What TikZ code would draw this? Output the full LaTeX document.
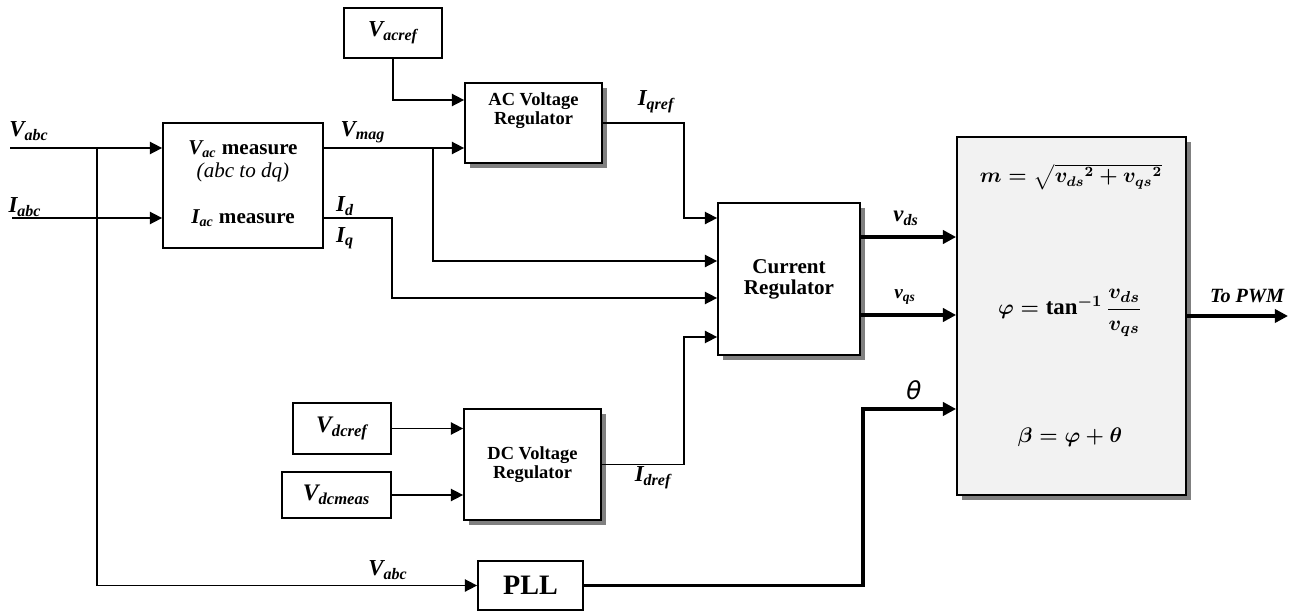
\documentclass[tikz,border=0pt]{standalone}
\usepackage{amsmath,bm}
\usepackage{fontspec}
\setmainfont{Liberation Serif}
\newfontfamily\thetafont{DejaVu Sans}
\usetikzlibrary{positioning,arrows.meta,shadows,calc}
\newcommand{\sg}[2]{\textbf{\textit{#1\textsubscript{#2}}}}
\newcommand{\fsz}[1]{\fontsize{#1}{#1}\selectfont}

\tikzset{
  blk/.style={draw,line width=1pt,fill=white,align=center,inner sep=0pt,
    font=\fsz{11}\bfseries},
  dims/.style 2 args={minimum width=#1*0.02cm,minimum height=#2*0.02cm},
  shd/.style={drop shadow={shadow xshift=0.1cm,shadow yshift=-0.1cm,
    fill=black!50,opacity=1}},
  sig/.style={line width=0.9pt,-{Triangle[length=7pt,width=7pt]}},
  bus/.style={line width=2.2pt,-{Triangle[length=7.5pt,width=7.5pt]}},
  lbl/.style={font=\fsz{13},inner sep=0pt},
  eqn/.style={font=\fsz{12}\boldmath},
}

\begin{document}
\begin{tikzpicture}[x=0.02cm,y=-0.02cm]
  \useasboundingbox (0,0) rectangle (1298,615);

  % blocks
  \node[blk,dims={160}{125}] (meas) at (243,185.5) {};
  \node[font=\fsz{12}] (meastop) at (243,149) {\sg{V}{ac} \textbf{measure}};
  \node[font=\fsz{12}\itshape] (measmid) at (243,172) {(abc to dq)};
  \node[font=\fsz{12}] (measbot) at (243,218) {\sg{I}{ac} \textbf{measure}};
  \node[blk,dims={98}{50},font=\fsz{13}] (vacref) at (393,33) {\sg{V}{acref}};
  \node[blk,shd,dims={137}{80},font=\fsz{10.5}\bfseries] (acreg) at (533.5,123)
    {AC Voltage\\Regulator\\[6pt]};
  \node[blk,shd,dims={142}{152},font=\fsz{12}\bfseries] (curreg) at (789,279)
    {Current\\Regulator};
  \node[blk,dims={98}{51},font=\fsz{13.5}] (dcref) at (342,428.5) {\sg{V}{dcref}};
  \node[blk,dims={109}{46},font=\fsz{13.5}] (dcmeas) at (336.5,495) {\sg{V}{dcmeas}};
  \node[blk,shd,dims={137}{111},font=\fsz{10.5}\bfseries] (dcreg) at (532.5,464.5)
    {DC Voltage\\Regulator};
  \node[blk,dims={105}{49},font=\fsz{16}\bfseries] (pll) at (530.5,585.5) {PLL};
  \node[blk,shd,fill=black!5,dims={229}{358}] (ctrl) at (1071.5,316) {};
  \node[eqn] (fm) at (1071,177) {$m=\sqrt{{v_{ds}}^{2}+{v_{qs}}^{2}}$};
  \node[eqn,font=\fsz{13}\boldmath] (fphi) at (1070,313)
    {$\varphi=\tan^{-1}\dfrac{v_{ds}}{v_{qs}}$};
  \node[eqn] (fbeta) at (1070,437) {$\beta=\varphi+\theta$};

  % connectors
  \coordinate (vin) at (10,148);
  \coordinate (iin) at (12,218);
  \coordinate (jv) at (97,148);
  \coordinate (pwm) at (1288,316);
  \draw[sig] (vin) -- (vin -| meas.west);
  \draw[sig] (iin) -- (iin -| meas.west);
  \draw[sig] (jv) |- (pll.west);
  \draw[sig] (meas.east |- vin) -- (acreg.west |- vin);
  \draw[sig] (meas.east |- vin) ++(109,0) |- ([yshift=0.36cm]curreg.west);
  \draw[sig] (meas.east |- iin) -- ++(68,0) |- ([yshift=-0.38cm]curreg.west);
  \draw[sig] (vacref.south) |- ([yshift=0.46cm]acreg.west);
  \draw[sig] (acreg.east) -- ++(81,0) |- ([yshift=1.22cm]curreg.west);
  \draw[sig] (dcreg.east) -- ++(82,0) |- ([yshift=-1.16cm]curreg.west);
  \draw[sig] (dcref.east) -- (dcref.east -| dcreg.west);
  \draw[sig] (dcmeas.east) -- (dcmeas.east -| dcreg.west);
  \coordinate (vdso) at ([yshift=0.84cm]curreg.east);
  \coordinate (vqso) at ([yshift=-0.72cm]curreg.east);
  \draw[bus] (vdso) -- (vdso -| ctrl.west);
  \draw[bus] (vqso) -- (vqso -| ctrl.west);
  \draw[bus] (pll.east) -- ++(279,0) |- ([yshift=-1.86cm]ctrl.west);
  \draw[bus] (ctrl.east) -- (pwm);

  % signal labels
  \node[lbl] (lvabc) at (29,131) {\sg{V}{abc}};
  \node[lbl] (liabc) at (25,207) {\sg{I}{abc}};
  \node[lbl] (lvmag) at (363,132) {\sg{V}{mag}};
  \node[lbl] (lid) at (345,206) {\sg{I}{d}};
  \node[lbl] (liq) at (345,238) {\sg{I}{q}};
  \node[lbl] (liqref) at (656,102) {\sg{I}{qref}};
  \node[lbl] (lidref) at (653,478) {\sg{I}{dref}};
  \node[lbl,font=\fsz{13}] (lvds) at (906,218) {\sg{v}{ds}};
  \node[lbl,font=\fsz{11}] (lvqs) at (905,297) {\sg{v}{qs}};
  \node[lbl,font=\fsz{14}\thetafont\itshape] (ltheta) at (914,390) {θ};
  \node[lbl] (lvabc2) at (388,570) {\sg{V}{abc}};
  \node[lbl,font=\fsz{11.5}\bfseries\itshape] (lpwm) at (1247,296) {To PWM};
\end{tikzpicture}
\end{document}
